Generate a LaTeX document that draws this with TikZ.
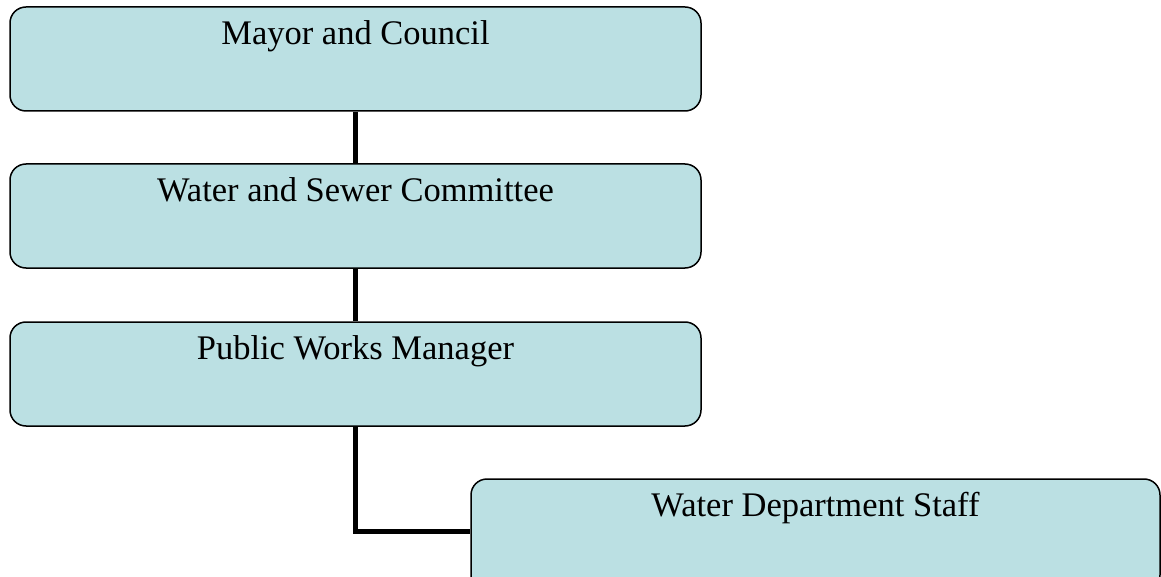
\documentclass[tikz,border=0pt]{standalone}
\usepackage{fontspec}
\setmainfont{Liberation Serif}
\definecolor{boxfill}{RGB}{187,224,227}
\tikzset{
  orgbox/.style={draw=black, line width=1.5pt, fill=boxfill, rounded corners=16pt,
    minimum height=104pt, inner sep=0pt},
  orgtext/.style={anchor=base, font=\fontsize{34.5}{38}\selectfont, inner sep=0pt},
  link/.style={line width=5pt, draw=black}
}
\begin{document}
\begin{tikzpicture}[x=1pt,y=-1pt]
\useasboundingbox (0,0) rectangle (1161,577);
\clip (0,0) rectangle (1161,577);
\node[orgbox, minimum width=691pt] (b1) at (355.5,59) {};
\node[orgbox, minimum width=691pt] (b2) at (355.5,216) {};
\node[orgbox, minimum width=691pt] (b3) at (355.5,374) {};
\node[orgbox, minimum width=689pt, minimum height=112pt] (b4) at (815.5,535) {};
\node[orgtext] (t1) at ([yshift=-38pt]b1.north) {Mayor and Council};
\node[orgtext] (t2) at ([yshift=-38pt]b2.north) {Water and Sewer Committee};
\node[orgtext] (t3) at ([yshift=-38pt]b3.north) {Public Works Manager};
\node[orgtext] (t4) at ([yshift=-38pt]b4.north) {Water Department Staff};
\draw[link] (b1.south) -- (b2.north);
\draw[link] (b2.south) -- (b3.north);
\draw[link] (b3.south) |- ([yshift=4pt]b4.west);
\end{tikzpicture}
\end{document}
